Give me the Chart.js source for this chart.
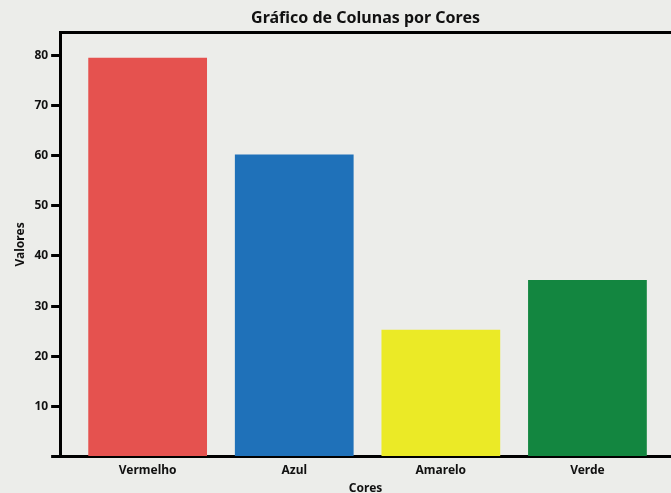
<!DOCTYPE html>
<html>
<head>
<meta charset="utf-8">
<script src="https://cdn.jsdelivr.net/npm/chart.js@4"></script>
<style>
  html, body { margin: 0; padding: 0; background: #ECEDEA; }
  #wrap { width: 671px; height: 493px; }
</style>
</head>
<body>
<div id="wrap"><canvas id="chart"></canvas></div>
<script>
const categories = ["Vermelho", "Azul", "Amarelo", "Verde"];
const values = [79.5, 60.2, 25.3, 35.2];
const barColors = ["#E5524F", "#1F71B9", "#EBEA26", "#138640"];
const yTicks = [10, 20, 30, 40, 50, 60, 70, 80];

const FONT = "'Noto Sans', 'Open Sans', sans-serif";
Chart.defaults.font.family = FONT;
Chart.defaults.color = "#111";

const bg = {
  id: "bg",
  beforeDraw(chart) {
    const { ctx, width, height } = chart;
    ctx.save();
    ctx.fillStyle = "#ECEDEA";
    ctx.fillRect(0, 0, width, height);
    ctx.restore();
  },
};

new Chart(document.getElementById("chart"), {
  type: "bar",
  data: {
    datasets: [{
      data: values.map((v, i) => ({ x: i, y: v })),
      backgroundColor: barColors,
      borderWidth: 0,
      categoryPercentage: 1,
      barPercentage: 0.81,
    }],
  },
  options: {
    responsive: true, maintainAspectRatio: false, animation: false,
    devicePixelRatio: 1,
    layout: { padding: { left: 13, right: 0, top: 7, bottom: 0 } },
    plugins: {
      legend: { display: false },
      tooltip: { enabled: false },
      title: {
        display: true, text: "Gráfico de Colunas por Cores", fullSize: false,
        color: "#111", font: { size: 16, weight: "bold" }, padding: { top: 2, bottom: 4 },
      },
    },
    scales: {
      x: {
        type: "linear", min: -0.597, max: 3.57, offset: false,
        afterBuildTicks: (s) => { s.ticks = categories.map((c, i) => ({ value: i })); },
        ticks: { callback: (v) => categories[v] ?? "", font: { size: 12, weight: "bold", lineHeight: 1 }, padding: 8, color: "#111" },
        grid: { display: false, drawTicks: false, offset: false },
        border: { display: true, color: "#000", width: 3 },
        title: { display: true, text: "Cores", font: { size: 12, weight: "bold" }, padding: { top: -3, bottom: -3 }, color: "#111" },
      },
      xTop: {
        type: "linear", position: "top", min: -0.597, max: 3.57, offset: false,
        ticks: { display: false },
        grid: { display: true, drawOnChartArea: false, drawTicks: false },
        border: { display: true, color: "#000", width: 3 },
      },
      y: {
        min: 0, max: 84.6,
        afterBuildTicks: (s) => { s.ticks = [0, ...yTicks].map((v) => ({ value: v })); },
        ticks: { callback: (v) => (v === 0 ? "" : v), font: { size: 12, weight: "bold" }, padding: 3, color: "#111" },
        grid: { drawOnChartArea: false, drawTicks: true, tickLength: 9, tickWidth: 3, tickColor: "#000" },
        border: { display: true, color: "#000", width: 3 },
        title: { display: true, text: "Valores", font: { size: 12, weight: "bold" }, padding: { top: 0, bottom: 4 }, color: "#111" },
      },
    },
  },
  plugins: [bg],
});
</script>
</body>
</html>
